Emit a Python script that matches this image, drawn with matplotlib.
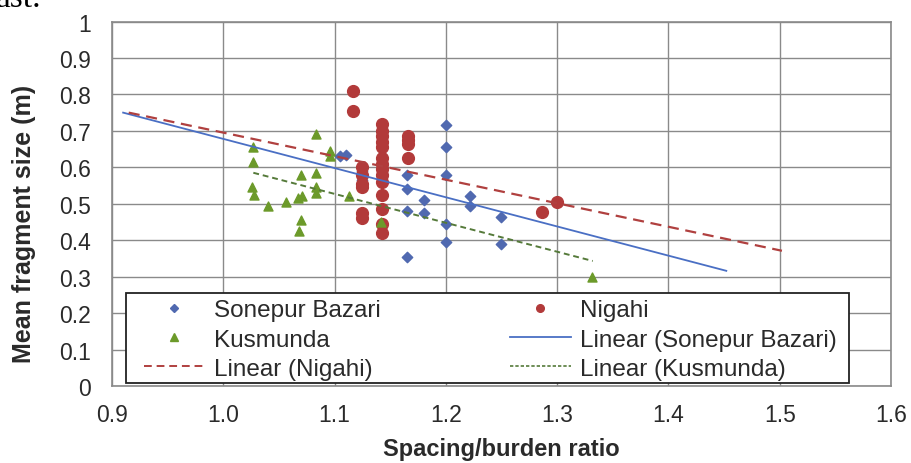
import matplotlib.pyplot as plt
from matplotlib.lines import Line2D
from matplotlib.patches import Rectangle

# data
son_x = [1.105, 1.11, 1.125, 1.125, 1.165, 1.165, 1.165, 1.165, 1.18, 1.18,
         1.2, 1.2, 1.2, 1.2, 1.2, 1.222, 1.222, 1.25, 1.25]
son_y = [0.63, 0.635, 0.59, 0.565, 0.58, 0.54, 0.48, 0.355, 0.51, 0.475,
         0.715, 0.655, 0.58, 0.445, 0.395, 0.52, 0.495, 0.465, 0.39]

nig_x = [1.117, 1.117,
         1.125, 1.125, 1.125, 1.125, 1.125, 1.125,
         1.143, 1.143, 1.143, 1.143, 1.143, 1.143, 1.143,
         1.143, 1.143, 1.143, 1.143, 1.143, 1.143, 1.143,
         1.166, 1.166, 1.166, 1.166, 1.286, 1.3]
nig_y = [0.81, 0.755,
         0.60, 0.58, 0.555, 0.545, 0.475, 0.46,
         0.72, 0.70, 0.685, 0.67, 0.655, 0.625, 0.61,
         0.595, 0.58, 0.56, 0.525, 0.485, 0.445, 0.42,
         0.685, 0.675, 0.665, 0.625, 0.478, 0.505]

kus_x = [1.027, 1.027, 1.026, 1.028, 1.04, 1.056, 1.067, 1.071, 1.07, 1.068,
         1.07, 1.083, 1.083, 1.083, 1.083, 1.096, 1.096, 1.113, 1.142, 1.331]
kus_y = [0.655, 0.615, 0.545, 0.525, 0.495, 0.505, 0.515, 0.52, 0.455, 0.425,
         0.58, 0.69, 0.585, 0.545, 0.53, 0.645, 0.63, 0.52, 0.45, 0.30]

# linear trendlines (end points as drawn)
son_fit_x = [0.91, 1.452]
son_fit_y = [0.75, 0.316]
nig_fit_x = [0.915, 1.502]
nig_fit_y = [0.75, 0.371]
kus_fit_x = [1.027, 1.332]
kus_fit_y = [0.585, 0.343]

x_ticks = [0.9, 1.0, 1.1, 1.2, 1.3, 1.4, 1.5, 1.6]
y_ticks = [0, 0.1, 0.2, 0.3, 0.4, 0.5, 0.6, 0.7, 0.8, 0.9, 1]
y_tick_labels = ["0", "0.1", "0.2", "0.3", "0.4", "0.5", "0.6", "0.7", "0.8", "0.9", "1"]

blue = "#5069b0"
red = "#b23a3a"
green = "#6c9a2a"
blue_line = "#4a6fc4"
red_line = "#b0403f"
green_line = "#557a3a"
grid_col = "#8a8a8a"
text_col = "#2a2a2a"

plt.rcParams['font.family'] = ['Liberation Sans', 'DejaVu Sans']

fig = plt.figure(figsize=(9.12, 4.64), dpi=100)
ax = fig.add_axes([112 / 912, 1 - 387 / 464, 779 / 912, 364.5 / 464])

ax.scatter(son_x, son_y, marker='D', s=28, color=blue, zorder=3)
ax.scatter(nig_x, nig_y, marker='o', s=72, color=red, zorder=3)
ax.scatter(kus_x, kus_y, marker='^', s=42, color=green, zorder=3)

ax.plot(son_fit_x, son_fit_y, color=blue_line, lw=1.3, zorder=4)
ax.plot(nig_fit_x, nig_fit_y, color=red_line, lw=1.6, dashes=(5, 3), zorder=4)
ax.plot(kus_fit_x, kus_fit_y, color=green_line, lw=1.4, dashes=(3, 2), zorder=4)

ax.set_xlim(0.9, 1.6)
ax.set_ylim(0, 1)
ax.set_xticks(x_ticks)
ax.set_xticklabels(["%.1f" % v for v in x_ticks])
ax.set_yticks(y_ticks)
ax.set_yticklabels(y_tick_labels)
ax.tick_params(axis='both', length=0, labelsize=16.5, colors=text_col)
ax.tick_params(axis='x', pad=12)
ax.tick_params(axis='y', pad=15)
ax.grid(True, color=grid_col, lw=1.0)
ax.set_axisbelow(True)
for sp in ax.spines.values():
    sp.set_color(grid_col)
    sp.set_linewidth(1.2)

ax.set_xlabel("Spacing/burden ratio", fontsize=17, fontweight='bold', color=text_col)
ax.xaxis.set_label_coords(0.5, -0.14)
ax.set_ylabel("Mean fragment size (m)", fontsize=18, fontweight='bold', color=text_col)
ax.yaxis.set_label_coords(-0.098, 0.447)

# legend box drawn separately so the inner spacing can match
box = Rectangle((0.0176, 0.009), 0.9285, 0.246, transform=ax.transAxes,
                facecolor='white', edgecolor='#222222', lw=1.3, zorder=5)
ax.add_patch(box)

# legend in Excel row order, split into two columns
h_son = Line2D([], [], ls='none', marker='D', ms=4, color=blue)
h_nig = Line2D([], [], ls='none', marker='o', ms=5.5, color=red)
h_kus = Line2D([], [], ls='none', marker='^', ms=5.5, color=green)
h_son_fit = Line2D([], [], color=blue_line, lw=1.3)
h_nig_fit = Line2D([], [], color=red_line, lw=1.4, dashes=(4, 2.5))
h_kus_fit = Line2D([], [], color=green_line, lw=1.2, dashes=(2, 1.2))
handles = [h_son, h_kus, h_nig_fit, h_nig, h_son_fit, h_kus_fit]
labels = ["Sonepur Bazari", "Kusmunda", "Linear (Nigahi)",
          "Nigahi", "Linear (Sonepur Bazari)", "Linear (Kusmunda)"]
leg = ax.legend(handles, labels, ncol=2, loc='upper left',
                bbox_to_anchor=(0.0406, 0.238), fontsize=17.5, frameon=False,
                handlelength=2.51, handletextpad=0.37, columnspacing=5.33,
                labelspacing=0.3, borderpad=0, borderaxespad=0)
leg.set_zorder(6)
for t in leg.get_texts():
    t.set_color(text_col)

# clipped caption text from the page above the chart
fig.text(-0.004, 1 - 7 / 464, "ast.", fontsize=24, family='Liberation Serif',
         va='baseline', ha='left')

fig.savefig("out.png", dpi=100)
